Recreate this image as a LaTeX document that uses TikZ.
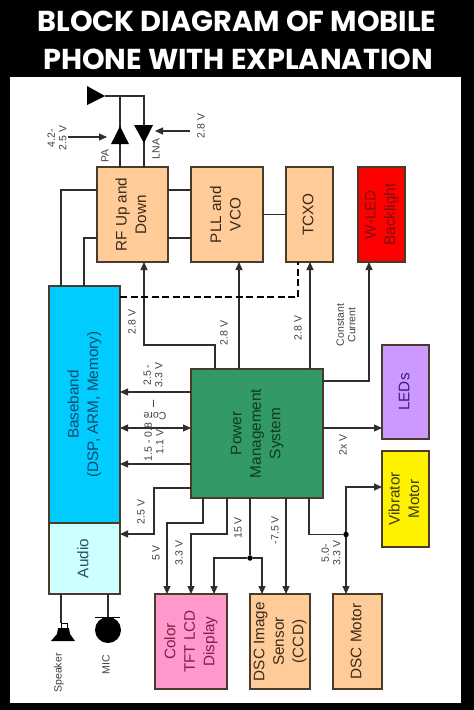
\documentclass[tikz,border=0pt]{standalone}
\usepackage{fontspec}
\setmainfont{Liberation Sans}
\newfontfamily\ttlfont{Poppins}
\usetikzlibrary{arrows.meta}
\definecolor{wire}{HTML}{2E2E2E}
\definecolor{edge}{HTML}{4A3A2A}
\definecolor{peach}{HTML}{FFCC99}
\definecolor{bluebb}{HTML}{00CCFF}
\definecolor{cyanau}{HTML}{CCFFFF}
\definecolor{greenpm}{HTML}{339966}
\definecolor{purp}{HTML}{CC99FF}
\definecolor{pinkd}{HTML}{FF99CC}
\definecolor{txtpeach}{HTML}{3A2A18}
\definecolor{txtred}{HTML}{7A1010}
\definecolor{txtblue}{HTML}{0A4A6A}
\definecolor{txtaudio}{HTML}{2A5060}
\definecolor{txtgreen}{HTML}{0E3A20}
\definecolor{txtled}{HTML}{3A1A80}
\definecolor{txtvib}{HTML}{3A3A10}
\definecolor{txtpink}{HTML}{80204A}
\newcommand{\vtxt}[1]{\rotatebox{90}{\renewcommand{\arraystretch}{1.0}\begin{tabular}{@{}c@{}}#1\end{tabular}}}
\tikzset{
 boxn/.style={draw=edge,line width=1.2pt,inner sep=0pt,outer sep=0pt,font=\fontsize{15.3}{19.5}\selectfont,text=#1},
 boxn/.default={txtpeach},
 wiren/.style={draw=wire,line width=1.2pt},
 arr/.style={wiren,-{Triangle[width=7pt,length=8pt]}},
 biarr/.style={wiren,{Triangle[width=7pt,length=8pt]}-{Triangle[width=7pt,length=8pt]}},
 dashw/.style={draw=black,line width=2.4pt,dash pattern=on 7pt off 3.5pt},
 lab/.style={font=\fontsize{10.5}{11.5}\selectfont,text=black!75,align=center,inner sep=0pt},
 dotn/.style={circle,fill=black,inner sep=0pt,minimum size=5.5pt},
 ttl/.style={text=white,font=\ttlfont\bfseries\fontsize{28.8}{30}\selectfont,inner sep=0pt}
}
\begin{document}
\begin{tikzpicture}[x=1pt,y=-1pt]
\useasboundingbox (0,0) rectangle (474,710);
\fill[black] (0,0) rectangle (474,710);
\fill[white] (10,77) rectangle (461,703);
\node[ttl] (t1) at (237,21) {BLOCK DIAGRAM OF MOBILE};
\node[ttl] (t2) at (238,59) {PHONE WITH EXPLANATION};
% blocks
\node[boxn,fill=peach,minimum width=71pt,minimum height=95pt] (rf) at (132.5,214.5) {\vtxt{RF Up and\\Down}};
\node[boxn,fill=peach,minimum width=72pt,minimum height=95pt] (pll) at (227,214.5) {\vtxt{PLL and\\VCO}};
\node[boxn,fill=peach,minimum width=47pt,minimum height=95pt] (tcxo) at (309.5,214.5) {\vtxt{TCXO}};
\node[boxn=txtred,fill=red,minimum width=47pt,minimum height=95pt] (wled) at (381.5,214.5) {\vtxt{W-LED\\Backlight}};
\node[boxn=txtblue,fill=bluebb,minimum width=71pt,minimum height=237pt] (bb) at (84.5,404.5) {\vtxt{Baseband\\(DSP, ARM, Memory)}};
\node[boxn=txtaudio,fill=cyanau,minimum width=71pt,minimum height=71pt] (audio) at (84.5,558.5) {\vtxt{Audio}};
\node[boxn=txtgreen,fill=greenpm,minimum width=132pt,minimum height=129pt] (pms) at (257,433.5) {\vtxt{Power\\Management\\System}};
\node[boxn=txtled,fill=purp,minimum width=47pt,minimum height=94pt] (leds) at (405.5,392) {\vtxt{LEDs}};
\node[boxn=txtvib,fill=yellow,minimum width=47pt,minimum height=96pt] (vib) at (405.5,499) {\vtxt{Vibrator\\Motor}};
\node[boxn=txtpink,fill=pinkd,minimum width=72pt,minimum height=95pt] (lcd) at (191,641.5) {\vtxt{Color\\TFT LCD\\Display}};
\node[boxn,fill=peach,minimum width=60pt,minimum height=95pt] (ccd) at (280,641.5) {\vtxt{DSC Image\\Sensor\\(CCD)}};
\node[boxn,fill=peach,minimum width=49pt,minimum height=95pt] (motor) at (357.5,641.5) {\vtxt{DSC Motor}};
% antenna and amplifiers
\coordinate (ant) at (105,96);
\coordinate (paj) at (120,96);
\coordinate (lnaj) at (144,96);
\coordinate (pain) at (68,137);
\coordinate (pat) at (107,137);
\coordinate (lnain) at (190,131);
\coordinate (lnat) at (155,131);
\fill[black] (87,86) -- (105,96) -- (87,105) -- cycle;
\draw[wiren] (ant) -- (lnaj) -- ([xshift=47pt]rf.north west);
\draw[wiren] (paj) -- ([xshift=23pt]rf.north west);
\fill[black] (111,144) -- (120,126) -- (129,144) -- cycle;
\fill[black] (134,125) -- (153,125) -- (144,143) -- cycle;
\draw[arr] (pain) -- (pat);
\draw[arr] (lnain) -- (lnat);
% RF, PLL, TCXO links
\draw[wiren] ([yshift=-23pt]rf.north west) -| ([xshift=12pt]bb.north west);
\draw[wiren] ([yshift=-71pt]rf.north west) -| ([xshift=35pt]bb.north west);
\draw[wiren] ([yshift=-23pt]rf.north east) -- ([yshift=-23pt]pll.north west);
\draw[wiren] ([yshift=-71pt]rf.north east) -- ([yshift=-71pt]pll.north west);
\draw[wiren] (pll.east) -- (tcxo.west);
% power rails upward
\draw[arr] ([xshift=24pt]pms.north west) -- ++(0,-24) -| ([xshift=47pt]rf.south west);
\draw[arr] ([xshift=48pt]pms.north west) -- ([xshift=48pt]pll.south west);
\draw[arr] ([xshift=119pt]pms.north west) -- ([xshift=24pt]tcxo.south west);
\draw[dashw] ([yshift=-11pt]bb.north east) -| ([xshift=12pt]tcxo.south west);
\draw[arr] ([yshift=-12pt]pms.north east) -| ([xshift=11pt]wled.south west);
\draw[arr] ([yshift=-59pt]pms.north east) -- ([yshift=-83pt]leds.north west);
% to baseband
\coordinate (p392) at ([yshift=-23pt]pms.north west);
\coordinate (p428) at ([yshift=-59pt]pms.north west);
\coordinate (p464) at ([yshift=-95pt]pms.north west);
\coordinate (p488) at ([yshift=-119pt]pms.north west);
\draw[arr] (p392) -- (p392 -| bb.east);
\draw[biarr] (p428) -- (p428 -| bb.east);
\draw[arr] (p464) -- (p464 -| bb.east);
\draw[arr] (p488) -- ++(-37,0) |- ([yshift=-11pt]audio.north east);
% downward rails
\draw[arr] ([xshift=12pt]pms.south west) -- ++(0,25) -| ([xshift=12pt]lcd.north west);
\draw[arr] ([xshift=36pt]pms.south west) -- ++(0,36) -| ([xshift=36pt]lcd.north west);
\node[dotn] (j1) at (250,558) {};
\node[dotn] (j2) at (346,534.5) {};
\draw[wiren] ([xshift=59pt]pms.south west) -- (j1);
\draw[arr] (j1) -| ([xshift=59pt]lcd.north west);
\draw[arr] (j1) -| ([xshift=12pt]ccd.north west);
\draw[arr] ([xshift=95pt]pms.south west) -- ([xshift=36pt]ccd.north west);
\draw[wiren] ([xshift=118pt]pms.south west) |- (j2);
\draw[arr] (j2) -- ([xshift=13pt]motor.north west);
\draw[arr] (j2) |- ([yshift=-36pt]vib.north west);
% speaker and mic
\coordinate (spk) at (61,623);
\node[circle,fill=black,inner sep=0pt,minimum size=26pt] (mic) at (108,630) {};
\draw[wiren] ([xshift=12pt]audio.south west) -- (spk);
\draw[wiren] ([xshift=59pt]audio.south west) -- (mic.north);
\draw[black,line width=1pt] (95,617) -- (120,617);
\draw[black,line width=1pt] (61,628) -- (61,623) -- (67,623) -- (67,628);
\fill[black] (58,628) -- (69,628) -- (70,634) -- (75,641) -- (51,641) -- (57,634) -- cycle;
% labels
\node[lab,rotate=90] (l1) at (201,126) {2.8 V};
\node[lab,rotate=90] (l2) at (57,138) {4.2-\\2.5 V};
\node[lab,rotate=90] (l3) at (105,156) {PA};
\node[lab,rotate=90] (l4) at (156,149) {LNA};
\node[lab,rotate=90] (l5) at (132,322) {2.8 V};
\node[lab,rotate=90] (l6) at (224,333) {2.8 V};
\node[lab,rotate=90] (l7) at (298,328) {2.8 V};
\node[lab,rotate=90] (l8) at (346,325) {Constant\\Current};
\node[lab,rotate=90] (l9) at (153,375) {2.5 -\\3.3 V};
\node[lab,rotate=90] (l10) at (154,442) {1.5 - 0.8\\1.1 V};
\node[lab,rotate=180] (l11) at (155,416) {Core};
\node[lab] (l12) at (153.5,404) {I};
\node[lab,rotate=90] (l13) at (141,512) {2.5 V};
\node[lab,rotate=90] (l14) at (156,553) {5 V};
\node[lab,rotate=90] (l15) at (179,553) {3.3 V};
\node[lab,rotate=90] (l16) at (238,528) {15 V};
\node[lab,rotate=90] (l17) at (275,530) {-7.5 V};
\node[lab,rotate=90] (l18) at (331,553) {5.0-\\3.3 V};
\node[lab,rotate=90] (l19) at (343,445) {2x V};
\node[lab,rotate=90] (l20) at (59,673) {Speaker};
\node[lab,rotate=90] (l21) at (106,665) {MIC};
\end{tikzpicture}
\end{document}
